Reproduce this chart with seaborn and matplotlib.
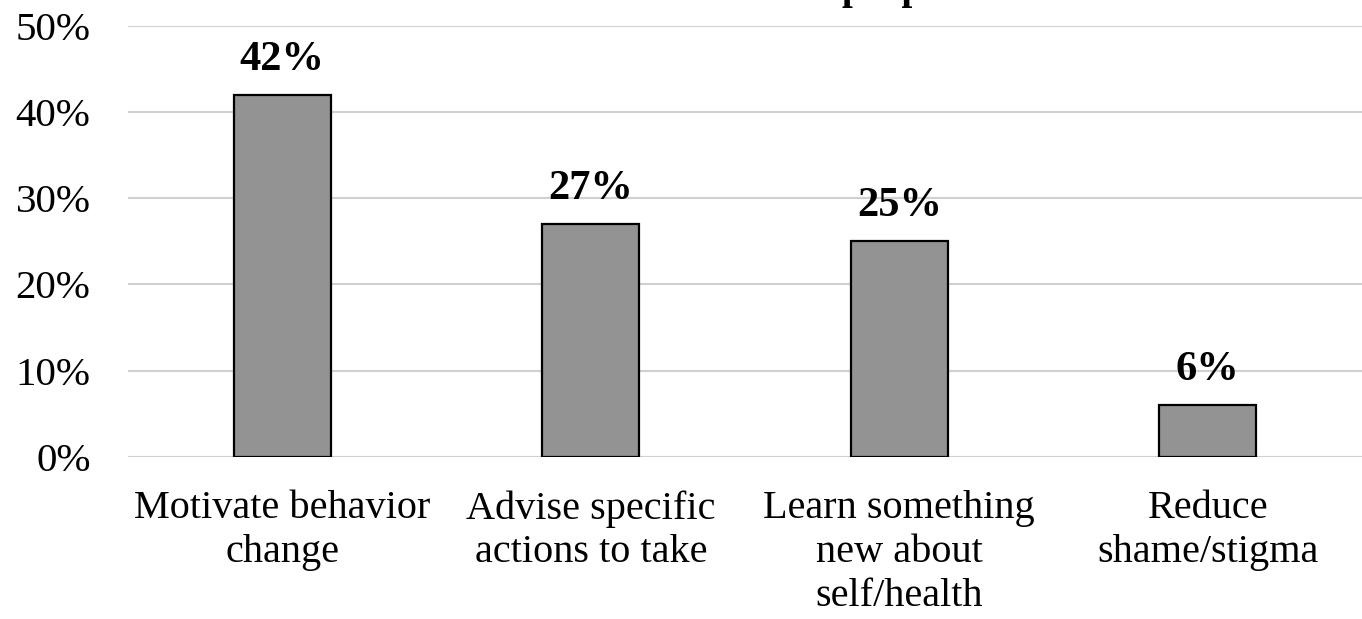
import matplotlib
matplotlib.use("Agg")
import matplotlib.pyplot as plt
import seaborn as sns
import pandas as pd

categories = ["Motivate behavior\nchange", "Advise specific\nactions to take",
              "Learn something\nnew about\nself/health", "Reduce\nshame/stigma"]
shares = [42, 27, 25, 6]
tick_values = [0, 10, 20, 30, 40, 50]
tick_labels = ["0%", "10%", "20%", "30%", "40%", "50%"]

sns.set_theme(style="white")
plt.rcParams["font.family"] = ["Liberation Serif", "DejaVu Serif"]

df = pd.DataFrame({"purpose": categories, "share": shares})

fig = plt.figure(figsize=(13.62, 6.19), dpi=100)
ax = fig.add_axes([0.094, 0.262, 0.906, 0.696])

sns.barplot(data=df, x="purpose", y="share", color="#939393", width=0.315,
            edgecolor="black", linewidth=1.6, saturation=1, ax=ax, zorder=3)

ax.set_ylim(0, 50)
ax.set_yticks(tick_values)
ax.set_yticklabels(tick_labels, fontsize=29.5)
ax.yaxis.grid(True, color="#d0d0d0", linewidth=1.5, zorder=0)
ax.set_axisbelow(True)
for s in ax.spines.values():
    s.set_visible(False)
ax.tick_params(axis="y", length=0, pad=27, colors="black")
ax.tick_params(axis="x", length=0, labelsize=29, pad=24, colors="black")
ax.set_xlabel("")
ax.set_ylabel("")
for lbl in ax.get_xticklabels():
    lbl.set_linespacing(1.24)

for i, v in enumerate(shares):
    ax.text(i, v + 2.9, f"{v}%", ha="center", va="baseline", fontsize=30.5,
            fontweight="bold", color="black")

# chart title sits above the top edge of the canvas
fig.text(0.618, 1.002, "purpose", ha="left", va="baseline", fontsize=28,
         fontweight="bold", color="black")

fig.savefig("out.png", dpi=100)
